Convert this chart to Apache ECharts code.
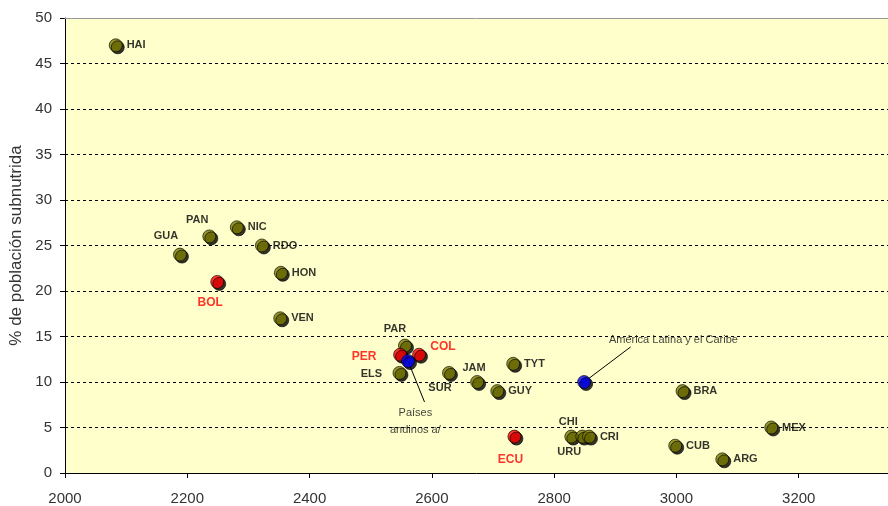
<!DOCTYPE html>
<html>
<head>
<meta charset="utf-8">
<script src="https://cdn.jsdelivr.net/npm/echarts@6/dist/echarts.min.js"></script>
<style>html,body{margin:0;padding:0;background:#fff;}#c{width:888px;height:506px;}</style>
</head>
<body>
<div id="c"></div>
<script>
// Data: calories per capita (x) vs % undernourished (y)
var countries = ['HAI','GUA','PAN','NIC','RDO','HON','VEN','PAR','ELS','SUR','JAM','GUY','TYT','CHI','URU','CRI','BRA','CUB','ARG','MEX'];
var countryX  = [2083, 2188, 2236, 2281, 2322, 2353, 2352, 2556, 2547, 2628, 2674, 2707, 2733, 2828, 2846, 2857, 3010, 2998, 3075, 3155];
var countryY  = [47,   24,   26,   27,   25,   22,   17,   14,   11,   11,   10,   9,    12,   4,    4,    4,    9,    3,    1.5,  5];

var andean  = ['BOL','PER','COL','ECU'];
var andeanX = [2249, 2548, 2579, 2735];
var andeanY = [21,   13,   13,   4];

var aggregates = ['Países\nandinos a/', 'América Latina y el Caribe'];
var aggX = [2561, 2849];
var aggY = [12.3, 10];
// annotation text anchors and leader-line ends
var noteX = [2573, 2995];
var noteY = [5.7, 14.6];
var leaderX = [2588, 2925];
var leaderY = [7.8, 13.85];

var xTicks = [2000, 2200, 2400, 2600, 2800, 3000, 3200];

// label placement (style only)
var labelPlace = {
  HAI:'right', GUA:[-14,-19], PAN:[-12,-16], NIC:'right', RDO:'right', HON:'right', VEN:'right',
  PAR:[-10,-17], ELS:[-28,1], SUR:[-9,15], JAM:[-3,-14], GUY:'right', TYT:'right',
  CHI:[-3,-15], URU:[-13,15], CRI:'right', BRA:'right', CUB:'right', ARG:'right', MEX:'right',
  BOL:[-7,21], PER:[-36,2], COL:[24,-8], ECU:[-4,23]
};

function makePoints(names, xs, ys) {
  return names.map(function (n, i) {
    var p = labelPlace[n];
    var lab = (p === 'right') ? {position:'right', distance:4} : {position:'inside', offset:p};
    return {name:n, value:[xs[i], ys[i]], label:lab};
  });
}

var shadow = {shadowColor:'#000', shadowBlur:0, shadowOffsetX:2, shadowOffsetY:2, borderColor:'#000', borderWidth:0.8};
var font = 'Liberation Sans, Arial, sans-serif';

var chart = echarts.init(document.getElementById('c'));
chart.setOption({
  animation:false,
  backgroundColor:'#fff',
  grid:{left:65, top:18, right:0, bottom:33, outerBoundsMode:'none', containLabel:false, show:true, backgroundColor:'#FFFFCC', borderWidth:0},
  xAxis:[{
    type:'value', min:2000, max:3346, interval:200,
    axisLine:{show:true, lineStyle:{color:'#000', width:1}},
    axisTick:{show:true, length:5, lineStyle:{color:'#000'}, customValues:xTicks},
    axisLabel:{color:'#333', fontSize:15, fontFamily:font, margin:18, customValues:xTicks,
      formatter:function(v){return String(v);}},
    splitLine:{show:false}
  },{
    type:'value', min:2000, max:3346, position:'top', z:3,
    axisLine:{show:true, onZero:false, lineStyle:{color:'#999', width:1}},
    axisTick:{show:false}, axisLabel:{show:false}, splitLine:{show:false}
  }],
  yAxis:{
    type:'value', min:0, max:50, interval:5,
    name:'% de población subnutrida', nameLocation:'middle', nameGap:39, nameRotate:90,
    nameTextStyle:{color:'#333', fontSize:17, fontFamily:font},
    axisLine:{show:true, lineStyle:{color:'#000', width:1}},
    axisTick:{show:true, length:5, lineStyle:{color:'#000'}},
    axisLabel:{color:'#333', fontSize:15, fontFamily:font, margin:13},
    splitLine:{show:true, lineStyle:{color:'#000', type:[3,3], width:1}}
  },
  series:[
    {
      type:'scatter', symbolSize:13, z:3,
      itemStyle:Object.assign({color:'#7B7B00'}, shadow),
      label:{show:true, formatter:'{b}', color:'#000', fontWeight:'bold', fontSize:11, fontFamily:font, textBorderWidth:0},
      data:makePoints(countries, countryX, countryY)
    },
    {
      type:'scatter', symbolSize:13, z:4,
      itemStyle:Object.assign({color:'#FF0000'}, shadow),
      label:{show:true, formatter:'{b}', color:'#FF0000', fontWeight:'bold', fontSize:12, fontFamily:font, textBorderWidth:0},
      data:makePoints(andean, andeanX, andeanY)
    },
    {
      type:'scatter', symbolSize:13, z:5,
      itemStyle:Object.assign({color:'#0000FF'}, shadow),
      label:{show:false},
      data:aggregates.map(function(n,i){return {name:n, value:[aggX[i], aggY[i]]};}),
      markLine:{
        silent:true, symbol:'none', animation:false,
        lineStyle:{color:'#000', width:1, type:'solid'},
        label:{show:false},
        data:aggregates.map(function(n,i){return [{coord:[aggX[i], aggY[i]]},{coord:[leaderX[i], leaderY[i]]}];})
      }
    },
    {
      type:'scatter', symbol:'circle', symbolSize:1, z:6, silent:true,
      itemStyle:{color:'rgba(0,0,0,0)'},
      label:{show:true, position:'inside', formatter:'{b}', color:'#111', fontSize:11, lineHeight:17, fontFamily:font, textBorderWidth:0},
      data:aggregates.map(function(n,i){return {name:n, value:[noteX[i], noteY[i]]};})
    }
  ]
});
</script>
</body>
</html>
